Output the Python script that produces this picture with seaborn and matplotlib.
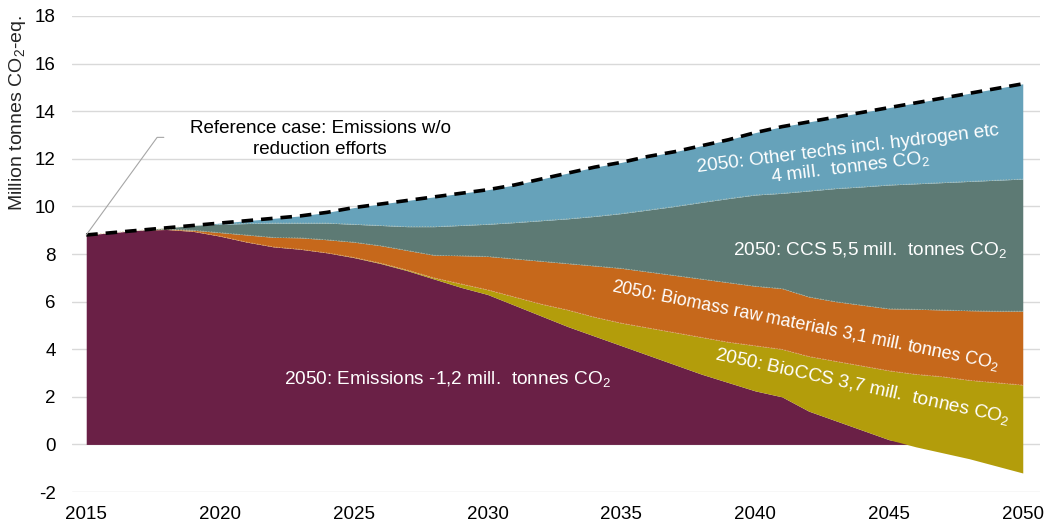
import numpy as np
import pandas as pd
import matplotlib
matplotlib.use("Agg")
import matplotlib.pyplot as plt
import seaborn as sns

# ---- data (boundaries of stacked layers, million tonnes CO2-eq.) ----
years = list(range(2015, 2051))
emissions = [8.8, 8.9, 9.0, 9.03, 8.95, 8.75, 8.5, 8.3, 8.2, 8.05,
             7.85, 7.6, 7.3, 6.95, 6.6, 6.3, 5.85, 5.4, 4.95, 4.55,
             4.15, 3.75, 3.35, 2.95, 2.6, 2.25, 2.0, 1.4, 1.0, 0.6,
             0.2, -0.1, -0.35, -0.6, -0.9, -1.2]
top_bioccs = [8.8, 8.9, 9.0, 9.03, 8.95, 8.75, 8.5, 8.3, 8.2, 8.05,
              7.86, 7.62, 7.33, 7.0, 6.75, 6.5, 6.2, 5.9, 5.65, 5.35,
              5.1, 4.9, 4.7, 4.5, 4.3, 4.15, 4.0, 3.7, 3.5, 3.3,
              3.1, 2.95, 2.85, 2.7, 2.6, 2.5]
top_biomass = [8.8, 8.9, 9.0, 9.05, 9.0, 8.9, 8.8, 8.7, 8.68, 8.6,
               8.5, 8.35, 8.15, 7.95, 7.93, 7.9, 7.8, 7.7, 7.6, 7.5,
               7.4, 7.25, 7.1, 6.95, 6.8, 6.65, 6.55, 6.2, 6.0, 5.85,
               5.7, 5.68, 5.65, 5.62, 5.6, 5.6]
top_ccs = [8.8, 8.9, 9.0, 9.1, 9.2, 9.25, 9.28, 9.3, 9.3, 9.3,
           9.25, 9.2, 9.15, 9.15, 9.2, 9.25, 9.32, 9.4, 9.48, 9.58,
           9.7, 9.85, 10.0, 10.17, 10.33, 10.48, 10.55, 10.65, 10.75, 10.82,
           10.9, 10.95, 11.0, 11.05, 11.1, 11.15]
reference = [8.8, 8.9, 9.0, 9.1, 9.2, 9.3, 9.4, 9.5, 9.6, 9.75,
             9.95, 10.1, 10.25, 10.4, 10.55, 10.7, 10.9, 11.15, 11.4, 11.65,
             11.85, 12.1, 12.3, 12.55, 12.8, 13.1, 13.35, 13.55, 13.75, 13.95,
             14.15, 14.35, 14.55, 14.75, 14.95, 15.15]
x_ticks = [2015, 2020, 2025, 2030, 2035, 2040, 2045, 2050]
y_ticks = [-2, 0, 2, 4, 6, 8, 10, 12, 14, 16, 18]

df = pd.DataFrame({"year": years, "emissions": emissions, "bioccs": top_bioccs,
                   "biomass": top_biomass, "ccs": top_ccs, "reference": reference})

# ---- style ----
sns.set_theme(style="white")
plt.rcParams["font.family"] = ["Liberation Sans", "DejaVu Sans"]
plt.rcParams["mathtext.fontset"] = "custom"
plt.rcParams["mathtext.rm"] = "Liberation Sans"
plt.rcParams["mathtext.it"] = "Liberation Sans:italic"
plt.rcParams["axes.unicode_minus"] = False

C_PURPLE = "#6A2046"
C_OLIVE = "#B39D0B"
C_ORANGE = "#C6681B"
C_TEAL = "#5D7A74"
C_BLUE = "#66A2BA"
SUB2 = r"CO$_\mathregular{2}$"

fig = plt.figure(figsize=(10.48, 5.24), dpi=100)
ax = fig.add_axes([0.069, 0.061, 0.923, 0.9085])

yr = df["year"].to_numpy()
em = df["emissions"].to_numpy()
ax.fill_between(yr, 0, np.clip(em, 0, None), color=C_PURPLE, lw=0, zorder=2)
ax.fill_between(yr, em, df["bioccs"], color=C_OLIVE, lw=0, zorder=2)
ax.fill_between(yr, df["bioccs"], df["biomass"], color=C_ORANGE, lw=0, zorder=2)
ax.fill_between(yr, df["biomass"], df["ccs"], color=C_TEAL, lw=0, zorder=2)
ax.fill_between(yr, df["ccs"], df["reference"], color=C_BLUE, lw=0, zorder=2)

for col in ["bioccs", "biomass", "ccs"]:
    sns.lineplot(data=df, x="year", y=col, ax=ax, color="#E8D9B0", lw=0.5,
                 alpha=0.6, linestyle=(0, (2, 2)), zorder=3)
sns.lineplot(data=df, x="year", y="reference", ax=ax, color="black", lw=2.6,
             linestyle=(0, (3.2, 2.2)), zorder=4)

ax.set_xlim(2014.48, 2050.63)
ax.set_ylim(-2, 18)
ax.set_xticks(x_ticks)
ax.set_yticks(y_ticks)
ax.set_xlabel("")
ax.set_ylabel("")
ax.yaxis.grid(True, color="#D9D9D9", lw=1, zorder=0)
ax.xaxis.grid(False)
for s in ax.spines.values():
    s.set_visible(False)
ax.tick_params(axis="both", length=0, labelsize=13.5, colors="black")
ax.tick_params(axis="x", pad=10)
ax.tick_params(axis="y", pad=12)

fig.text(0.017, 1 - 113 / 524, "Million tonnes " + SUB2 + "-eq.",
         rotation=90, ha="center", va="center", fontsize=14)

# reference-case callout with leader line
ax.text(2023.74, 12.82, "Reference case: Emissions w/o\nreduction efforts",
        ha="center", va="center", fontsize=13.5, color="black",
        linespacing=1.3, zorder=5)
ax.plot([2015, 2017.65, 2017.9], [8.8, 12.9, 12.9], color="#A6A6A6",
        lw=0.8, zorder=5, clip_on=False)

ax.text(2028.5, 2.75, "2050: Emissions -1,2 mill.  tonnes " + SUB2,
        ha="center", va="center", fontsize=13.7, color="white", zorder=5)
ax.text(2044.3, 8.15, "2050: CCS 5,5 mill.  tonnes " + SUB2,
        ha="center", va="center", fontsize=13.7, color="white", zorder=5)
ax.text(2043.5, 12.0, "2050: Other techs incl. hydrogen etc\n4 mill.  tonnes " + SUB2,
        ha="center", va="center", fontsize=13.7, color="white", rotation=7,
        rotation_mode="anchor", linespacing=1.0, zorder=5)
ax.text(2041.9, 5.0, "2050: Biomass raw materials 3,1 mill. tonnes " + SUB2,
        ha="center", va="center", fontsize=12.9, color="white", rotation=-11.4,
        rotation_mode="anchor", zorder=5)
ax.text(2044.0, 2.44, "2050: BioCCS 3,7 mill.  tonnes " + SUB2,
        ha="center", va="center", fontsize=13.7, color="white", rotation=-12.3,
        rotation_mode="anchor", zorder=5)

fig.savefig("out.png", dpi=100)
